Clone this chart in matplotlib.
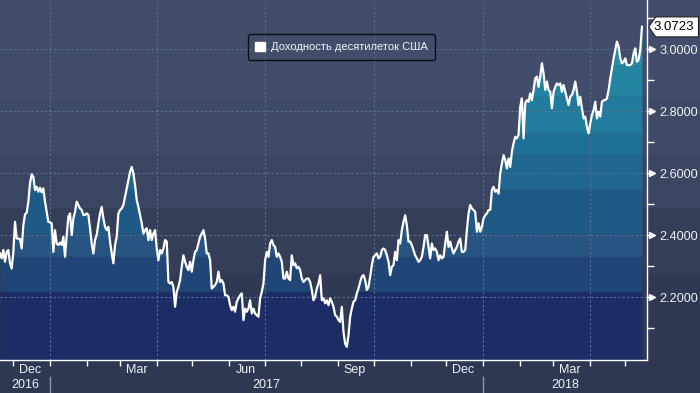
import numpy as np
import pandas as pd
import matplotlib
matplotlib.use('Agg')
import matplotlib.pyplot as plt
import matplotlib.dates as mdates
from matplotlib.patches import Patch, Polygon
from matplotlib.transforms import IdentityTransform, blended_transform_factory

plt.rcParams['font.family'] = ['Liberation Sans', 'DejaVu Sans']

# ---------------- data ----------------
start_date = '2016-11-20'
end_date = '2018-05-15'
series_label = 'Доходность десятилеток США'

seg_a = [2.342, 2.326, 2.353, 2.315, 2.347, 2.353, 2.310, 2.293, 2.347, 2.444,
         2.390, 2.390, 2.388, 2.358, 2.433, 2.468, 2.473, 2.509, 2.568, 2.597,
         2.589, 2.546, 2.557, 2.541, 2.554, 2.539, 2.552, 2.509, 2.476, 2.444,
         2.442, 2.439, 2.347, 2.417, 2.374, 2.369, 2.377, 2.369, 2.396, 2.331,
         2.401, 2.460, 2.471, 2.401, 2.455, 2.476, 2.509, 2.498, 2.487, 2.482,
         2.466, 2.466, 2.471, 2.466, 2.423, 2.374, 2.342, 2.385, 2.401, 2.439,
         2.471, 2.492, 2.455, 2.428, 2.417, 2.428, 2.380, 2.342, 2.310, 2.369,
         2.396, 2.471, 2.482, 2.487, 2.498, 2.525, 2.552, 2.578, 2.605, 2.621,
         2.600, 2.562, 2.514, 2.492, 2.466, 2.439, 2.406, 2.417, 2.423, 2.385,
         2.417, 2.385, 2.406, 2.417, 2.358, 2.320, 2.353, 2.342, 2.358]
seg_b = [2.385, 2.380, 2.250, 2.245, 2.250, 2.234, 2.170, 2.218, 2.234, 2.256,
         2.299, 2.336, 2.315, 2.299, 2.288, 2.315, 2.283, 2.320, 2.347, 2.353,
         2.374, 2.396, 2.406, 2.417, 2.390, 2.342, 2.342, 2.320, 2.229, 2.234,
         2.240, 2.250, 2.283, 2.250, 2.256, 2.245, 2.207, 2.207, 2.202, 2.175,
         2.159, 2.170, 2.154, 2.186, 2.197, 2.207, 2.213, 2.127, 2.164, 2.154,
         2.164, 2.191, 2.148, 2.164, 2.148, 2.143, 2.138, 2.197, 2.218, 2.245,
         2.320, 2.347, 2.331, 2.374, 2.385, 2.369, 2.363, 2.331, 2.342, 2.331,
         2.315, 2.261, 2.261, 2.283, 2.261, 2.256, 2.336, 2.304, 2.310, 2.294,
         2.299, 2.288, 2.261, 2.250, 2.256, 2.261, 2.261, 2.250, 2.224, 2.191,
         2.202, 2.229, 2.245, 2.272, 2.191, 2.197, 2.181, 2.191, 2.175]
seg_c = [2.197, 2.186, 2.170, 2.143, 2.138, 2.127, 2.121, 2.170, 2.089, 2.051,
         2.041, 2.078, 2.138, 2.164, 2.186, 2.191, 2.213, 2.229, 2.250, 2.267,
         2.272, 2.256, 2.224, 2.234, 2.267, 2.304, 2.331, 2.336, 2.342, 2.326,
         2.331, 2.353, 2.358, 2.353, 2.336, 2.315, 2.272, 2.299, 2.304, 2.347,
         2.320, 2.385, 2.374, 2.417, 2.444, 2.465, 2.433, 2.380, 2.380, 2.369,
         2.353, 2.336, 2.326, 2.315, 2.320, 2.331, 2.363, 2.401, 2.401, 2.363,
         2.326, 2.374, 2.353, 2.358, 2.347, 2.320, 2.336, 2.326, 2.331, 2.374,
         2.412, 2.363, 2.380, 2.358, 2.342, 2.353, 2.363, 2.380, 2.390, 2.347,
         2.347, 2.353, 2.417, 2.471, 2.498, 2.487, 2.482, 2.476, 2.412, 2.439,
         2.412, 2.428, 2.455, 2.465, 2.471, 2.482]
seg_d = [2.482, 2.546, 2.557, 2.541, 2.546, 2.535, 2.600, 2.632, 2.659, 2.643,
         2.616, 2.648, 2.621, 2.670, 2.697, 2.718, 2.713, 2.724, 2.815, 2.842,
         2.713, 2.826, 2.836, 2.831, 2.858, 2.836, 2.869, 2.906, 2.912, 2.879,
         2.912, 2.955, 2.922, 2.869, 2.896, 2.869, 2.863, 2.810, 2.863, 2.879,
         2.890, 2.885, 2.890, 2.863, 2.885, 2.863, 2.842, 2.820, 2.847, 2.853,
         2.869, 2.896, 2.863, 2.820, 2.847, 2.810, 2.777, 2.783, 2.750, 2.729,
         2.761, 2.788, 2.804, 2.831, 2.777, 2.799, 2.783, 2.831, 2.836, 2.836,
         2.842, 2.869, 2.906, 2.939, 2.971, 2.998, 3.025, 3.009, 2.971, 2.955,
         2.960, 2.971, 2.949, 2.949, 2.949, 2.955, 2.987, 3.003, 2.960, 2.966,
         2.998, 3.0723]

y_major = [2.2, 2.4, 2.6, 2.8, 3.0]
y_minor = [2.1, 2.3, 2.5, 2.7, 2.9, 3.1]
month_labels_months = [3, 6, 9, 12]

values = np.array(seg_a + seg_b + seg_c + seg_d)
dates = pd.date_range(start_date, end_date, periods=len(values))

# ---------------- styling ----------------
W, H = 700, 393
ax_bottom_px = 33.5
ax_right_px = 646.7
ylo, yhi = 2.0, 3.159
xlo, xhi = pd.Timestamp('2016-11-20'), pd.Timestamp('2018-05-19')

bg_bands = [(2.84, 3.2, '#414d6a'), (2.66, 2.84, '#3e4a66'), (2.488, 2.66, '#3a4561'),
            (2.275, 2.488, '#343e58'), (1.9, 2.275, '#2f3954')]
fill_bands = [(2.0, 2.22, '#1c2d66'), (2.22, 2.333, '#1f4677'), (2.333, 2.405, '#285482'),
              (2.405, 2.55, '#1f5a87'), (2.55, 2.66, '#1f6690'), (2.66, 2.73, '#1e7096'),
              (2.73, 2.85, '#207b9c'), (2.85, 2.95, '#2384a1'), (2.95, 3.2, '#288ba6')]
txt = '#f2f2f2'
grid_c = '#5a7291'

fig = plt.figure(figsize=(W / 100, H / 100), dpi=100, facecolor='#2e3853')

bg = fig.add_axes([0, ax_bottom_px / H, 1, 1 - ax_bottom_px / H], zorder=0)
bg.set_xlim(0, 1)
bg.set_ylim(ylo, yhi)
bg.axis('off')
for lo, hi, c in bg_bands:
    bg.axhspan(lo, hi, color=c, lw=0)

ax = fig.add_axes([0, ax_bottom_px / H, ax_right_px / W, 1 - ax_bottom_px / H], zorder=1)
ax.set_facecolor('none')
ax.set_xlim(xlo, xhi)
ax.set_ylim(ylo, yhi)

for lo, hi, c in fill_bands:
    ax.fill_between(dates, lo, np.clip(values, lo, hi), color=c, lw=0, zorder=1)

ax.plot(dates, values, color='white', lw=1.6, zorder=3, solid_joinstyle='round')

# grid
for v in y_major:
    ax.axhline(v, color=grid_c, lw=0.8, ls=(0, (2, 2)), zorder=2)
for d in pd.date_range('2017-01-01', '2018-04-01', freq='QS'):
    ax.axvline(d, color=grid_c, lw=0.8, ls=(0, (2, 2)), zorder=2)

# spines
for s in ['left', 'top']:
    ax.spines[s].set_visible(False)
for s in ['right', 'bottom']:
    ax.spines[s].set_color('white')
    ax.spines[s].set_linewidth(1.0)

# y axis
ax.yaxis.tick_right()
ax.set_yticks(y_major)
ax.set_yticklabels([f'{v:.4f}' for v in y_major])
ax.set_yticks(y_minor, minor=True)
ax.tick_params(axis='y', which='major', length=0, pad=9, labelsize=9.1, labelcolor=txt)
ax.tick_params(axis='y', which='minor', length=5, width=1, color='white', direction='out')
ytr = ax.get_yaxis_transform()
ax.plot([1.0 + 5 / ax_right_px] * len(y_major), y_major, ls='none', marker='>', ms=5,
        color='white', transform=ytr, clip_on=False, zorder=4)
ax.plot([[1.0], [1.0 + 4 / ax_right_px]], [y_major, y_major], color='white', lw=1,
        transform=ytr, clip_on=False)

# x axis
ax.xaxis.set_major_locator(mdates.MonthLocator(bymonth=month_labels_months, bymonthday=15))
ax.xaxis.set_major_formatter(mdates.DateFormatter('%b'))
ax.xaxis.set_minor_locator(mdates.MonthLocator())
ax.tick_params(axis='x', which='major', length=0, pad=3, labelsize=9, labelcolor=txt)
ax.tick_params(axis='x', which='minor', length=4, width=1, color='white', direction='out')

xtr = blended_transform_factory(ax.transData, ax.transAxes)
ax_h = H - ax_bottom_px
for yr in [2016, 2017, 2018]:
    a = max(xlo, pd.Timestamp(f'{yr}-01-01'))
    b = min(xhi, pd.Timestamp(f'{yr + 1}-01-01'))
    mid = a + (b - a) / 2
    ax.text(mid, -25 / ax_h, str(yr), transform=xtr, ha='center', va='center',
            fontsize=9, color=txt)
for yr in [2017, 2018]:
    d = pd.Timestamp(f'{yr}-01-01')
    ax.plot([d, d], [-17 / ax_h, -34 / ax_h], color='#8d96aa', lw=1, transform=xtr,
            clip_on=False)

# legend
leg = ax.legend(handles=[Patch(facecolor='white', edgecolor='white', label=series_label)],
                loc='center', bbox_to_anchor=(341.5 / ax_right_px, 1 - 47.3 / ax_h),
                frameon=True, fancybox=True, fontsize=8, handlelength=0.85, handleheight=0.85,
                handletextpad=0.55, borderpad=0.7, borderaxespad=0, labelcolor=txt)
leg.get_frame().set_facecolor('none')
leg.get_frame().set_edgecolor('black')
leg.get_frame().set_linewidth(1.0)

# last value tag
last = values[-1]
px, py = ax.get_yaxis_transform().transform((1.0, last))
hh = 10
verts = [(px + 2, py), (px + 9, py + hh), (W - 1.5, py + hh), (W - 1.5, py - hh), (px + 9, py - hh)]
fig.add_artist(Polygon(verts, closed=True, facecolor='white', edgecolor='#202020', lw=0.8,
                       transform=IdentityTransform(), zorder=5))
fig.text((px + 27.5) / W, py / H, f'{last:.4f}', ha='center', va='center', fontsize=9.5,
         color='black', zorder=6)

fig.savefig('out.png', dpi=100, facecolor=fig.get_facecolor())
